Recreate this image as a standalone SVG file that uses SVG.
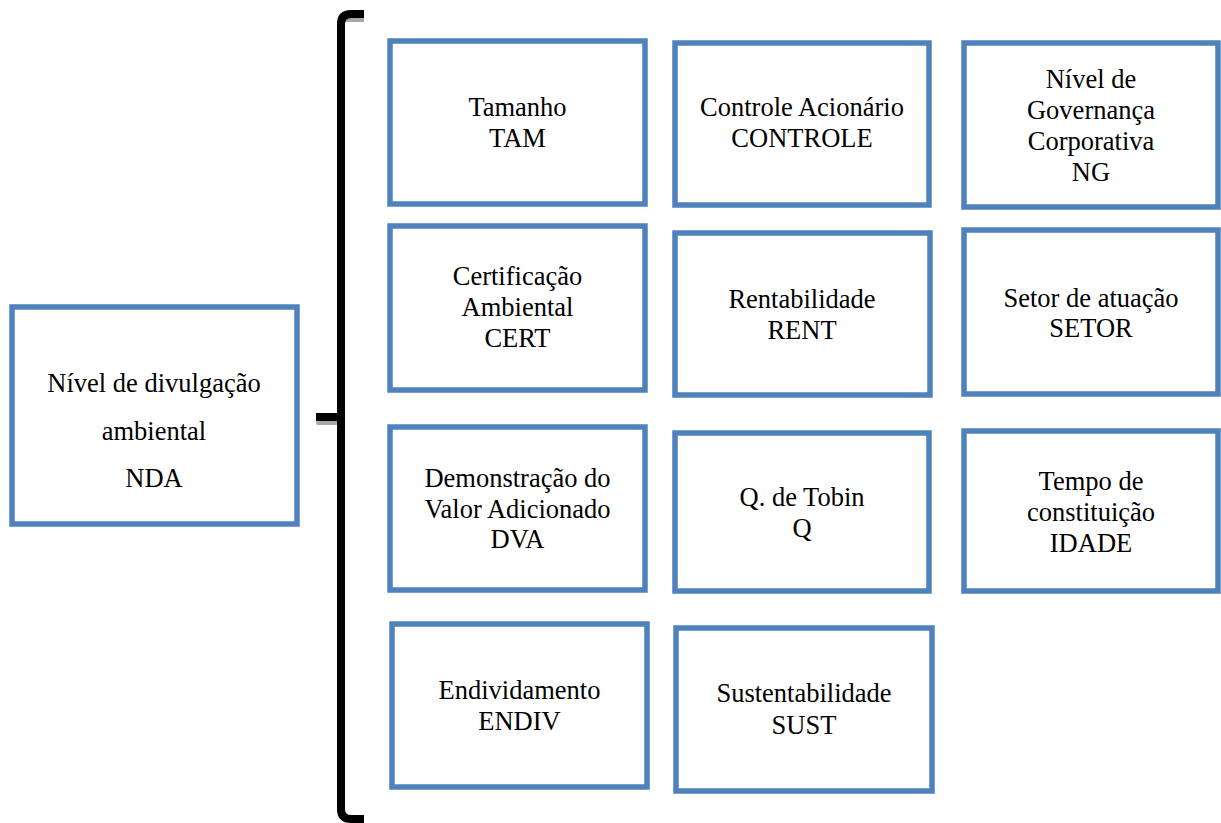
<svg xmlns="http://www.w3.org/2000/svg" width="1221" height="823" viewBox="0 0 1221 823">
<style>
.box{fill:#ffffff;stroke:#4f81bd;stroke-width:5.5}
.t{font-family:"Liberation Serif","Times New Roman",serif;font-size:26.5px;fill:#000;text-anchor:middle}
.br{fill:none;stroke:#000;stroke-width:8;stroke-linecap:butt}
.sh{fill:none;stroke:#a6a6a6;stroke-width:4}
</style>
<rect width="1221" height="823" fill="#ffffff"/>
<g id="connectors">
<path class="sh" d="M345,20 H364"/>
<path class="sh" d="M318,423 H336" stroke-linecap="round"/>
<path class="br" d="M364,14 H351 Q341,14 341,24 V809 Q341,819 351,819 H364"/>
<path class="br" d="M316,417 H341" stroke-linecap="round"/>
</g>
<g id="nda">
<rect class="box" x="12" y="307" width="285" height="217"/>
<text class="t" x="154" y="392">Nível de divulgação</text>
<text class="t" x="154" y="440">ambiental</text>
<text class="t" x="154" y="487">NDA</text>
</g>
<g id="tam">
<rect class="box" x="390" y="41" width="255" height="163"/>
<text class="t" x="517.5" y="116">Tamanho</text>
<text class="t" x="517.5" y="147">TAM</text>
</g>
<g id="controle">
<rect class="box" x="675" y="43" width="254" height="162"/>
<text class="t" x="802" y="116">Controle Acionário</text>
<text class="t" x="802" y="147">CONTROLE</text>
</g>
<g id="ng">
<rect class="box" x="964" y="43" width="254" height="164"/>
<text class="t" x="1091" y="88">Nível de</text>
<text class="t" x="1091" y="119">Governança</text>
<text class="t" x="1091" y="150">Corporativa</text>
<text class="t" x="1091" y="181">NG</text>
</g>
<g id="cert">
<rect class="box" x="390" y="226" width="255" height="164"/>
<text class="t" x="517.5" y="285">Certificação</text>
<text class="t" x="517.5" y="316">Ambiental</text>
<text class="t" x="517.5" y="347">CERT</text>
</g>
<g id="rent">
<rect class="box" x="675" y="233" width="255" height="162"/>
<text class="t" x="802" y="308">Rentabilidade</text>
<text class="t" x="802" y="339">RENT</text>
</g>
<g id="setor">
<rect class="box" x="964" y="230" width="254" height="164"/>
<text class="t" x="1091" y="307">Setor de atuação</text>
<text class="t" x="1091" y="337">SETOR</text>
</g>
<g id="dva">
<rect class="box" x="390" y="427" width="255" height="163"/>
<text class="t" x="517.5" y="487">Demonstração do</text>
<text class="t" x="517.5" y="518">Valor Adicionado</text>
<text class="t" x="517.5" y="548">DVA</text>
</g>
<g id="q">
<rect class="box" x="675" y="433" width="254" height="158"/>
<text class="t" x="802" y="506">Q. de Tobin</text>
<text class="t" x="802" y="537">Q</text>
</g>
<g id="idade">
<rect class="box" x="964" y="431" width="254" height="160"/>
<text class="t" x="1091" y="490">Tempo de</text>
<text class="t" x="1091" y="521">constituição</text>
<text class="t" x="1091" y="552">IDADE</text>
</g>
<g id="endiv">
<rect class="box" x="392" y="624" width="255" height="163"/>
<text class="t" x="519.5" y="699">Endividamento</text>
<text class="t" x="519.5" y="730">ENDIV</text>
</g>
<g id="sust">
<rect class="box" x="676" y="628" width="256" height="163"/>
<text class="t" x="804" y="702">Sustentabilidade</text>
<text class="t" x="804" y="734">SUST</text>
</g>
</svg>
